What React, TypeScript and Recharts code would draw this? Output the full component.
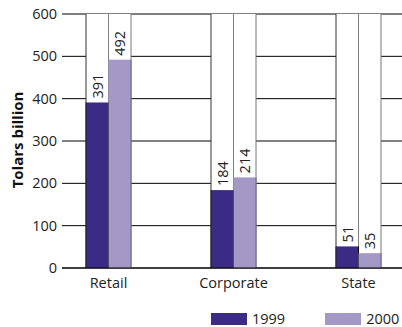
import { BarChart, Bar, XAxis, YAxis, CartesianGrid, Legend, LabelList, Label } from 'recharts';

const categories = ['Retail', 'Corporate', 'State'];
const values1999 = [391, 184, 51];
const values2000 = [492, 214, 35];
const seriesNames = ['1999', '2000'];
const yTicks = [0, 100, 200, 300, 400, 500, 600];

const COLORS = ['#3b2b84', '#a498c6'];
const FONT = '"Open Sans", sans-serif';

const data = categories.map((name, i) => ({
  name,
  [seriesNames[0]]: values1999[i],
  [seriesNames[1]]: values2000[i],
}));

// white full-height box behind each bar, with vertical edges
const makeBox = (leftColor: string | null, rightColor: string) => (props: any) => {
  const { x, y, width, height } = props;
  return (
    <g>
      <rect x={x} y={y} width={width} height={height} fill="#fff" />
      {leftColor && <line x1={x} x2={x} y1={y} y2={y + height} stroke={leftColor} strokeWidth={1} />}
      <line x1={x + width} x2={x + width} y1={y} y2={y + height} stroke={rightColor} strokeWidth={1} />
    </g>
  );
};

const makeBar = (fill: string, leftColor: string | null, rightColor: string) => (props: any) => {
  const { x, y, width, height } = props;
  return (
    <g>
      <rect x={x} y={y} width={width} height={height} fill={fill} />
      {leftColor && <line x1={x} x2={x} y1={y} y2={y + height} stroke={leftColor} strokeWidth={1} />}
      <line x1={x + width} x2={x + width} y1={y} y2={y + height} stroke={rightColor} strokeWidth={1} />
    </g>
  );
};

const ValueLabel = (props: any) => {
  const { x, y, width, value } = props;
  return (
    <text
      transform={`translate(${x + width / 2},${y - 4}) rotate(-90)`}
      textAnchor="start"
      dominantBaseline="central"
      fontSize={14.5}
      fontFamily={FONT}
      fill="#222"
    >
      {value}
    </text>
  );
};

const LegendContent = () => (
  <div style={{ display: 'flex', alignItems: 'center', fontFamily: FONT, fontSize: 14.5, color: '#222' }}>
    {seriesNames.map((s, i) => (
      <div key={s} style={{ display: 'flex', alignItems: 'center', marginLeft: i === 0 ? 0 : 40 }}>
        <div style={{ width: 36, height: 12, background: COLORS[i], marginRight: 5 }} />
        <span>{s}</span>
      </div>
    ))}
  </div>
);

export default function App() {
  return (
    <div style={{ position: 'absolute', left: 0, top: 0, width: 402, height: 327, background: '#fff' }}>
      <BarChart
        width={402}
        height={327}
        data={data}
        margin={{ top: 14, right: 0, bottom: 13, left: 0 }}
        barGap={0}
        barSize={22.5}
      >
        <CartesianGrid vertical={false} stroke="#000" strokeWidth={1} />
        <XAxis
          dataKey="name"
          padding={{ left: -16, right: -19 }}
          axisLine={{ stroke: '#000' }}
          tickLine={false}
          tickSize={0}
          tickMargin={10}
          tick={{ fontSize: 14.5, fontFamily: FONT, fill: '#222' }}
          height={30}
        />
        <YAxis
          width={62}
          domain={[0, 600]}
          ticks={yTicks}
          axisLine={false}
          tickLine={false}
          tickSize={0}
          tickMargin={5}
          tick={{ fontSize: 14.5, fontFamily: FONT, fill: '#222' }}
        >
          <Label
            content={() => (
              <text
                transform="translate(17,140) rotate(-90)"
                textAnchor="middle"
                dominantBaseline="central"
                fontSize={15}
                fontWeight="bold"
                fontFamily={FONT}
                fill="#111"
              >
                Tolars billion
              </text>
            )}
          />
        </YAxis>
        <Legend
          content={<LegendContent />}
          wrapperStyle={{ left: 211, top: 309, bottom: 'auto', width: 'auto', height: 16 }}
        />
        <Bar
          dataKey={seriesNames[0]}
          fill={COLORS[0]}
          isAnimationActive={false}
          background={makeBox('#333', '#000')}
          shape={makeBar(COLORS[0], '#222', '#000')}
        >
          <LabelList dataKey={seriesNames[0]} content={<ValueLabel />} />
        </Bar>
        <Bar
          dataKey={seriesNames[1]}
          fill={COLORS[1]}
          isAnimationActive={false}
          background={makeBox(null, '#777')}
          shape={makeBar(COLORS[1], null, '#6d6880')}
        >
          <LabelList dataKey={seriesNames[1]} content={<ValueLabel />} />
        </Bar>
      </BarChart>
    </div>
  );
}
